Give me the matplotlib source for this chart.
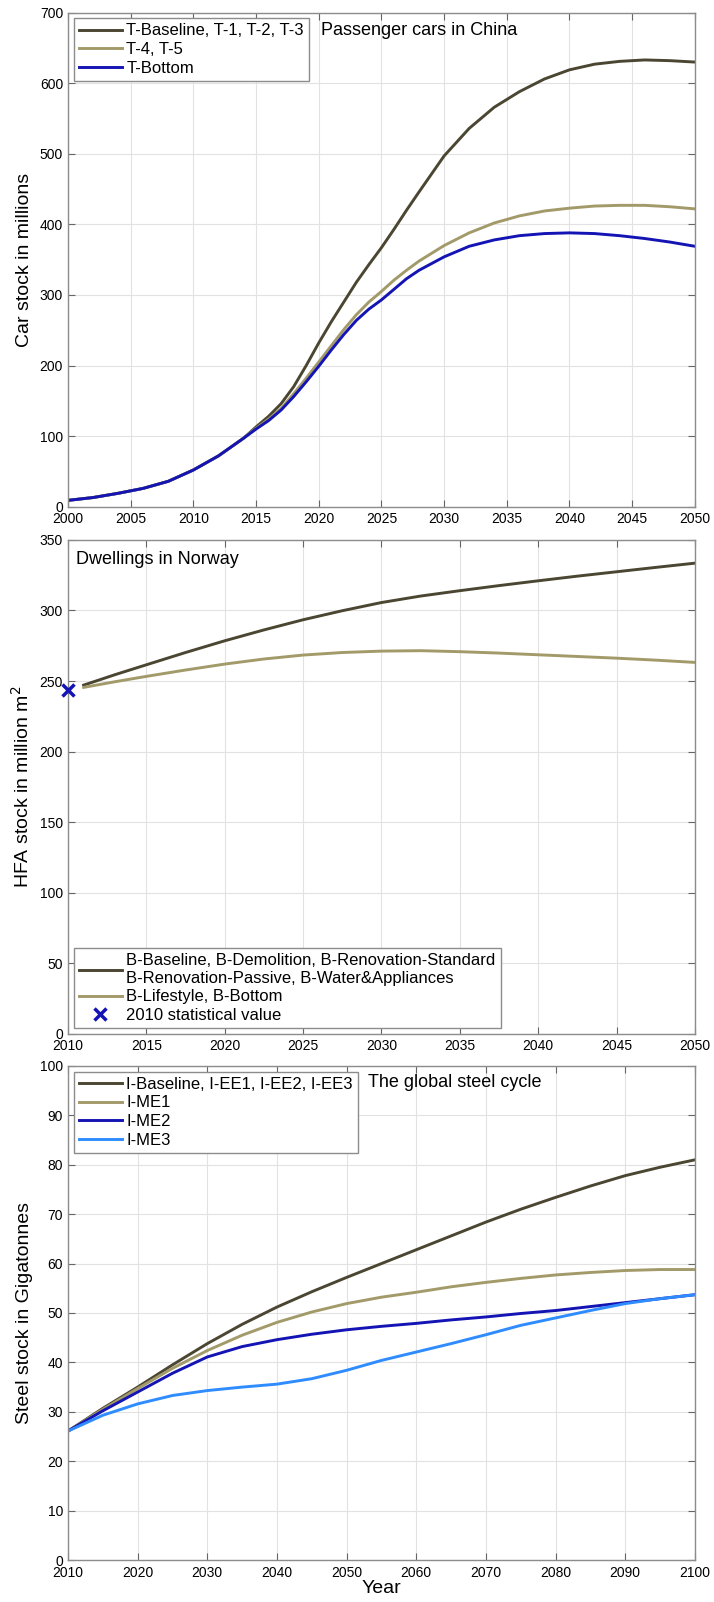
import matplotlib
matplotlib.use("Agg")
import matplotlib.pyplot as plt
import numpy as np

plt.rcParams['font.family'] = ['Liberation Sans', 'DejaVu Sans']

# ---- Passenger cars in China (million vehicles) ----
car_years = [2000, 2002, 2004, 2006, 2008, 2010, 2012, 2014, 2015, 2016, 2017, 2018,
             2019, 2020, 2021, 2022, 2023, 2024, 2025, 2026, 2027, 2028, 2030, 2032,
             2034, 2036, 2038, 2040, 2042, 2044, 2046, 2048, 2050]
car_baseline = [9, 13, 19, 26, 36, 52, 72, 97, 113, 128, 146, 170,
                200, 232, 262, 290, 318, 343, 367, 393, 420, 446, 497, 536,
                566, 588, 606, 619, 627, 631, 633, 632, 630]
car_t45 = [9, 13, 19, 26, 36, 52, 72, 97, 111, 124, 139, 160,
           182, 205, 228, 251, 272, 290, 305, 321, 335, 348, 370, 388,
           402, 412, 419, 423, 426, 427, 427, 425, 422]
car_bottom = [9, 13, 19, 26, 36, 52, 72, 97, 110, 122, 137, 156,
              177, 199, 222, 244, 264, 280, 293, 308, 323, 335, 354, 369,
              378, 384, 387, 388, 387, 384, 380, 375, 369]

# ---- Dwellings in Norway (HFA, million m2) ----
hfa_years = [2011, 2013, 2015, 2017.5, 2020, 2022.5, 2025, 2027.5, 2030, 2032.5,
             2035, 2037.5, 2040, 2042.5, 2045, 2047.5, 2050]
hfa_baseline = [247.1, 254.5, 261.5, 270.2, 278.5, 286.2, 293.4, 299.8, 305.6, 310.2,
                314.0, 317.6, 321.0, 324.3, 327.4, 330.5, 333.5]
hfa_lifestyle = [245.5, 249.5, 253.3, 257.8, 262.0, 265.6, 268.4, 270.2, 271.2, 271.5,
                 270.8, 269.8, 268.6, 267.4, 266.2, 264.8, 263.2]
hfa_stat_year = 2010
hfa_stat_value = 243.5

# ---- Global steel cycle (Gt) ----
steel_years = list(range(2010, 2101, 5))
steel_baseline = [26.1, 30.7, 35.0, 39.5, 43.8, 47.7, 51.2, 54.3, 57.2, 60.0,
                  62.8, 65.6, 68.4, 71.0, 73.4, 75.7, 77.8, 79.5, 81.0]
steel_me1 = [26.1, 30.5, 34.7, 38.8, 42.4, 45.5, 48.1, 50.2, 51.9, 53.2,
             54.2, 55.3, 56.2, 57.0, 57.7, 58.2, 58.6, 58.8, 58.8]
steel_me2 = [26.1, 30.2, 34.0, 37.8, 41.1, 43.2, 44.6, 45.7, 46.6, 47.3,
             47.9, 48.6, 49.2, 49.9, 50.5, 51.3, 52.1, 52.9, 53.7]
steel_me3 = [26.1, 29.3, 31.6, 33.3, 34.3, 35.0, 35.6, 36.7, 38.4, 40.4,
             42.1, 43.8, 45.6, 47.5, 49.0, 50.5, 51.9, 52.9, 53.7]

C_DARK = '#4b4632'
C_KHAKI = '#a39a6a'
C_BLUE = '#1414b4'
C_LIGHT = '#2f8cff'
LW = 2.1

TICK_FS = 10
LEG_FS = 12
NOTE_FS = 13
LABEL_FS = 14

fig = plt.figure(figsize=(7.14, 16.02), dpi=100)
L, W, H = 0.0952, 0.878, 0.3084
ax1 = fig.add_axes([L, 0.6837, W, H])
ax2 = fig.add_axes([L, 0.3546, W, H])
ax3 = fig.add_axes([L, 0.0262, W, H])


def style(ax, xlim, xticks, ylim, yticks):
    ax.set_xlim(*xlim)
    ax.set_ylim(*ylim)
    ax.set_xticks(xticks)
    ax.set_yticks(yticks)
    ax.grid(True, color='#e2e2e2', linewidth=0.8, linestyle='-')
    ax.set_axisbelow(True)
    ax.tick_params(direction='in', length=5, width=0.8, color='#666666',
                   labelsize=TICK_FS, top=True, right=True)
    ax.tick_params(axis='x', pad=4)
    ax.tick_params(axis='y', pad=3.5)
    for s in ax.spines.values():
        s.set_color('#8c8c8c')
        s.set_linewidth(1.0)


def legend(ax, loc):
    lg = ax.legend(loc=loc, fontsize=LEG_FS, frameon=True, fancybox=False,
                   edgecolor='#8c8c8c', framealpha=1, handlelength=2.6,
                   handletextpad=0.25, labelspacing=0.22, borderpad=0.3,
                   borderaxespad=0.35)
    lg.get_frame().set_linewidth(1.0)
    return lg


# Panel 1
ax1.plot(car_years, car_baseline, color=C_DARK, lw=LW, label='T-Baseline, T-1, T-2, T-3')
ax1.plot(car_years, car_t45, color=C_KHAKI, lw=LW, label='T-4, T-5')
ax1.plot(car_years, car_bottom, color=C_BLUE, lw=LW, label='T-Bottom')
style(ax1, (2000, 2050), np.arange(2000, 2051, 5), (0, 700), np.arange(0, 701, 100))
legend(ax1, 'upper left')
ax1.text(2020.15, 674.5, 'Passenger cars in China', fontsize=NOTE_FS, va='center')
ax1.set_ylabel('Car stock in millions', fontsize=LABEL_FS, labelpad=5)

# Panel 2
ax2.plot(hfa_years, hfa_baseline, color=C_DARK, lw=LW,
         label='B-Baseline, B-Demolition, B-Renovation-Standard\nB-Renovation-Passive, B-Water&Appliances')
ax2.plot(hfa_years, hfa_lifestyle, color=C_KHAKI, lw=LW, label='B-Lifestyle, B-Bottom')
ax2.plot([hfa_stat_year], [hfa_stat_value], linestyle='none', marker='x', color=C_BLUE,
         markersize=9, markeredgewidth=2.5, label='2010 statistical value', clip_on=False, zorder=5)
style(ax2, (2010, 2050), np.arange(2010, 2051, 5), (0, 350), np.arange(0, 351, 50))
legend(ax2, 'lower left')
ax2.text(2010.5, 336.3, 'Dwellings in Norway', fontsize=NOTE_FS, va='center')
ax2.set_ylabel('HFA stock in million m$^2$', fontsize=LABEL_FS, labelpad=5)

# Panel 3
ax3.plot(steel_years, steel_baseline, color=C_DARK, lw=LW, label='I-Baseline, I-EE1, I-EE2, I-EE3')
ax3.plot(steel_years, steel_me1, color=C_KHAKI, lw=LW, label='I-ME1')
ax3.plot(steel_years, steel_me2, color=C_BLUE, lw=LW, label='I-ME2')
ax3.plot(steel_years, steel_me3, color=C_LIGHT, lw=LW, label='I-ME3')
style(ax3, (2010, 2100), np.arange(2010, 2101, 10), (0, 100), np.arange(0, 101, 10))
legend(ax3, 'upper left')
ax3.text(2053.1, 96.6, 'The global steel cycle', fontsize=NOTE_FS, va='center')
ax3.set_ylabel('Steel stock in Gigatonnes', fontsize=LABEL_FS, labelpad=5)
ax3.set_xlabel('Year', fontsize=LABEL_FS, labelpad=0)

fig.savefig('out.png', dpi=100)
